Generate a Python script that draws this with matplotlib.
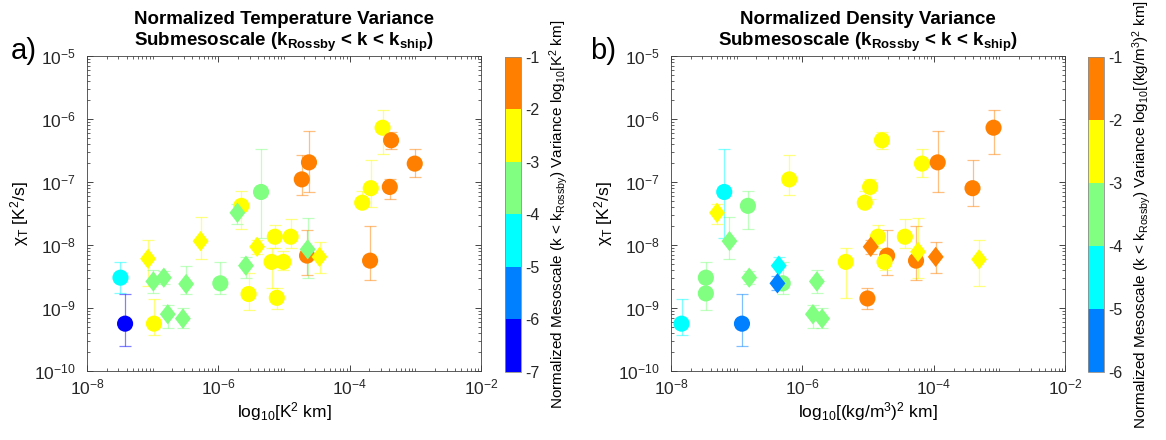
import numpy as np
import matplotlib
matplotlib.use("Agg")
import matplotlib.pyplot as plt
from matplotlib.colors import ListedColormap, BoundaryNorm
from matplotlib.cm import ScalarMappable
from matplotlib.ticker import LogLocator, NullFormatter

plt.rcParams['font.family'] = ['Liberation Sans', 'DejaVu Sans']
plt.rcParams['mathtext.fontset'] = 'custom'
plt.rcParams['mathtext.rm'] = 'Liberation Sans'
plt.rcParams['mathtext.it'] = 'Liberation Sans:italic'
plt.rcParams['mathtext.bf'] = 'Liberation Sans:bold'
plt.rcParams['axes.unicode_minus'] = False

# --- panel a: temperature (values are log10) ---
a_logx = [-7.49, -7.42, -6.98, -7.07, -6.99, -6.83, -6.77, -6.54, -6.49, -6.27,
          -5.97, -5.71, -5.65, -5.58, -5.54, -5.41, -5.35, -5.14, -4.90, -5.19,
          -5.01, -5.11, -4.64, -4.65, -4.46, -3.69, -3.81, -4.73, -4.62, -3.50,
          -3.37, -3.01, -3.68, -3.39]
a_logchi = [-8.52, -9.25, -9.25, -8.22, -8.58, -8.52, -9.10, -9.17, -8.62, -7.94,
            -8.61, -7.49, -7.38, -8.33, -8.78, -8.03, -7.16, -7.87, -7.87, -8.27,
            -8.27, -8.84, -8.07, -8.17, -8.19, -8.25, -7.33, -6.96, -6.69, -6.14,
            -6.34, -6.71, -7.10, -7.08]
a_lo = [-8.77, -9.60, -9.43, -8.65, -8.76, -8.62, -9.32, -9.32, -8.78, -8.23,
        -8.78, -7.67, -7.75, -8.53, -9.03, -8.15, -7.89, -8.05, -8.05, -8.69,
        -8.40, -9.02, -8.52, -8.47, -8.44, -8.56, -7.39, -7.21, -7.16, -6.56,
        -6.48, -6.93, -7.40, -7.27]
a_hi = [-8.27, -8.78, -8.86, -7.93, -8.40, -8.42, -8.95, -9.00, -8.34, -7.56,
        -8.27, -7.35, -7.15, -8.19, -8.44, -7.92, -6.47, -7.69, -7.59, -8.05,
        -8.10, -8.69, -7.58, -7.76, -7.95, -7.70, -7.15, -6.57, -6.20, -5.86,
        -6.21, -6.48, -6.66, -6.95]
a_meso = [-4.5, -6.5, -2.5, -2.5, -3.5, -3.5, -3.5, -3.5, -3.5, -2.5,
          -3.5, -3.5, -2.5, -3.5, -2.5, -2.5, -3.5, -2.5, -2.5, -2.5,
          -2.5, -2.5, -3.5, -1.5, -2.5, -1.5, -2.5, -1.5, -1.5, -2.5,
          -1.5, -1.5, -2.5, -1.5]
a_shape = ['o', 'o', 'o', 'd', 'd', 'd', 'd', 'd', 'd', 'd',
           'o', 'd', 'o', 'd', 'o', 'd', 'o', 'o', 'o', 'o',
           'o', 'o', 'd', 'o', 'd', 'o', 'o', 'o', 'o', 'o',
           'o', 'o', 'o', 'o']

# --- panel b: density ---
b_logx = [-7.84, -7.47, -7.47, -6.92, -7.30, -7.11, -7.19, -6.83, -6.81, -6.36,
          -6.38, -6.30, -5.78, -5.84, -5.70, -5.34, -5.01, -4.96, -4.85, -4.71,
          -4.75, -4.44, -4.24, -4.27, -3.97, -3.31, -5.05, -3.41, -6.20, -4.97,
          -4.79, -4.18, -3.94, -3.09]
b_logchi = [-9.25, -8.52, -8.77, -9.25, -7.49, -7.94, -7.16, -7.38, -8.52, -8.33,
            -8.61, -8.61, -8.58, -9.10, -9.17, -8.27, -8.85, -8.03, -7.87, -8.17,
            -8.27, -7.87, -8.11, -8.25, -8.19, -8.23, -7.33, -7.10, -6.96, -7.08,
            -6.34, -6.71, -6.69, -6.14]
b_lo = [-9.43, -8.77, -9.03, -9.60, -7.67, -8.23, -7.89, -7.75, -8.62, -8.53,
        -8.72, -8.78, -8.76, -9.32, -9.32, -8.85, -9.02, -8.15, -8.05, -8.47,
        -8.40, -8.05, -8.52, -8.56, -8.44, -8.65, -7.39, -7.39, -7.21, -7.27,
        -6.48, -6.93, -7.16, -6.56]
b_hi = [-8.86, -8.27, -8.44, -8.78, -7.35, -7.56, -6.47, -7.15, -8.42, -8.19,
        -8.50, -8.27, -8.40, -8.95, -9.00, -8.05, -8.69, -7.92, -7.69, -7.76,
        -8.10, -7.59, -7.58, -7.70, -7.95, -7.93, -7.15, -6.66, -6.57, -6.95,
        -6.21, -6.48, -6.20, -5.86]
b_meso = [-4.5, -3.5, -3.5, -5.5, -2.5, -3.5, -4.5, -3.5, -3.5, -4.5,
          -5.5, -3.5, -3.5, -3.5, -3.5, -2.5, -1.5, -1.5, -2.5, -1.5,
          -2.5, -2.5, -2.5, -1.5, -1.5, -2.5, -2.5, -1.5, -2.5, -2.5,
          -2.5, -2.5, -1.5, -1.5]
b_shape = ['o', 'o', 'o', 'o', 'd', 'd', 'o', 'o', 'd', 'd',
           'd', 'o', 'd', 'd', 'd', 'o', 'o', 'd', 'o', 'o',
           'o', 'o', 'd', 'o', 'd', 'd', 'o', 'o', 'o', 'o',
           'o', 'o', 'o', 'o']

jet6 = ['#0000ff', '#0080ff', '#00ffff', '#80ff80', '#ffff00', '#ff8000']
a_bounds = [-7, -6, -5, -4, -3, -2, -1]
b_bounds = [-6, -5, -4, -3, -2, -1]

diamond = [(0, 1), (0.78, 0), (0, -1), (-0.78, 0), (0, 1)]


def draw_panel(ax, cax, logx, logy, lo, hi, meso, shape, colors, bounds,
               title, xlabel, cblabel):
    cmap = ListedColormap(colors)
    norm = BoundaryNorm(bounds, cmap.N)
    x = 10.0 ** np.array(logx)
    y = 10.0 ** np.array(logy)
    ylo = 10.0 ** np.array(lo)
    yhi = 10.0 ** np.array(hi)
    meso = np.array(meso)
    shape = np.array(shape)

    # error bars first, lighter than the markers
    for i in range(len(x)):
        col = cmap(norm(meso[i]))
        ax.errorbar(x[i], y[i], yerr=[[y[i] - ylo[i]], [yhi[i] - y[i]]],
                    fmt='none', ecolor=col, alpha=0.5, elinewidth=0.9,
                    capsize=4, capthick=0.9, zorder=2)

    m = shape == 'o'
    ax.scatter(x[m], y[m], c=meso[m], cmap=cmap, norm=norm, s=135,
               marker='o', edgecolors='face', linewidths=0, zorder=3)
    m = shape == 'd'
    ax.scatter(x[m], y[m], c=meso[m], cmap=cmap, norm=norm, s=215,
               marker=diamond, edgecolors='face', linewidths=0, zorder=3)

    ax.set_xscale('log')
    ax.set_yscale('log')
    ax.set_xlim(1e-8, 1e-2)
    ax.set_ylim(1e-10, 1e-5)
    ax.set_xticks([1e-8, 1e-6, 1e-4, 1e-2])
    ax.xaxis.set_minor_locator(LogLocator(base=10, subs=np.arange(1, 10), numticks=100))
    ax.xaxis.set_minor_formatter(NullFormatter())
    ax.yaxis.set_minor_locator(LogLocator(base=10, subs=np.arange(1, 10), numticks=100))
    ax.yaxis.set_minor_formatter(NullFormatter())
    ax.tick_params(which='both', direction='in', top=True, right=True,
                   colors='0.15', labelsize=12.5)
    ax.tick_params(which='major', length=4.5, width=0.6)
    ax.tick_params(which='minor', length=2.5, width=0.5)
    ax.tick_params(axis='y', which='major', pad=8)
    ax.tick_params(axis='x', which='major', pad=5)
    for sp in ax.spines.values():
        sp.set_color('0.25')
        sp.set_linewidth(0.6)

    ax.set_title(title, fontsize=13.5, fontweight='bold', pad=7)
    ax.set_xlabel(xlabel, fontsize=12.5, labelpad=2)
    ax.set_ylabel("χ$_{\\rm T}$ [K$^2$/s]", fontsize=12.5, labelpad=2)

    cb = plt.colorbar(ScalarMappable(norm=norm, cmap=cmap), cax=cax, ticks=bounds)
    cb.ax.set_yticklabels([str(b) for b in bounds])
    cb.ax.tick_params(labelsize=11.5, length=0, pad=3, colors='0.15')
    cb.outline.set_edgecolor('0.55')
    cb.outline.set_linewidth(0.6)
    cb.set_label(cblabel, fontsize=11, labelpad=5)


fig = plt.figure(figsize=(11.66, 4.40), dpi=100)
ax_a = fig.add_axes([0.0746, 0.157, 0.338, 0.716])
cax_a = fig.add_axes([0.433, 0.155, 0.0140, 0.716])
ax_b = fig.add_axes([0.5755, 0.157, 0.338, 0.716])
cax_b = fig.add_axes([0.933, 0.155, 0.0140, 0.716])

draw_panel(ax_a, cax_a, a_logx, a_logchi, a_lo, a_hi, a_meso, a_shape,
           jet6, a_bounds,
           "Normalized Temperature Variance\n"
           r"Submesoscale (k$_{\mathbf{Rossby}}$ < k < k$_{\mathbf{ship}}$)",
           r"log$_{10}$[K$^2$ km]",
           r"Normalized Mesoscale (k < k$_{\rm Rossby}$) Variance log$_{10}$[K$^2$ km]")

draw_panel(ax_b, cax_b, b_logx, b_logchi, b_lo, b_hi, b_meso, b_shape,
           jet6[1:], b_bounds,
           "Normalized Density Variance\n"
           r"Submesoscale (k$_{\mathbf{Rossby}}$ < k < k$_{\mathbf{ship}}$)",
           r"log$_{10}$[(kg/m$^3$)$^2$ km]",
           r"Normalized Mesoscale (k < k$_{\rm Rossby}$) Variance log$_{10}$[(kg/m$^3$)$^2$ km]")

fig.text(0.009, 0.865, "a)", fontsize=21)
fig.text(0.506, 0.865, "b)", fontsize=21)

fig.savefig("out.png", dpi=100)
